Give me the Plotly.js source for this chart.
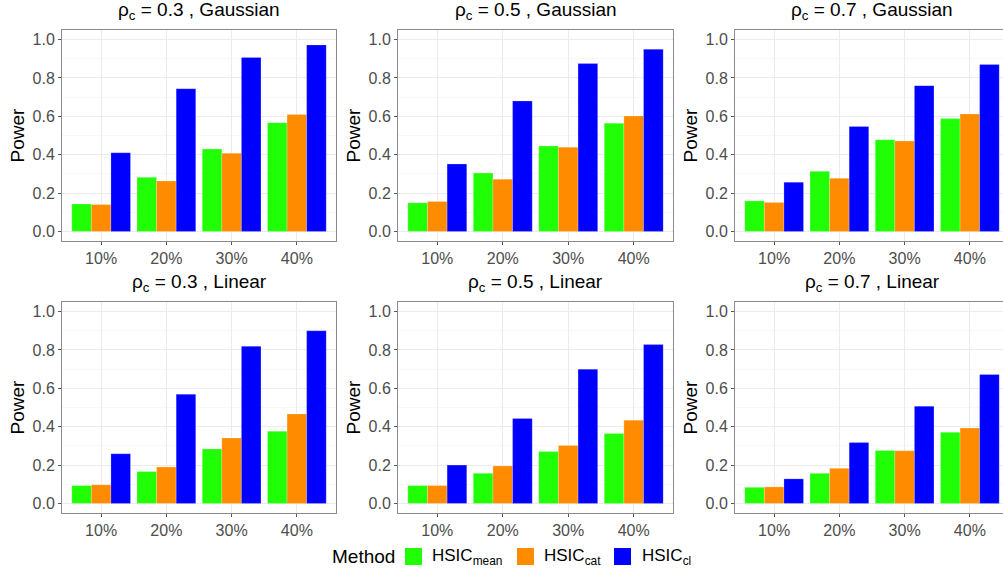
<!DOCTYPE html>
<html>
<head>
<meta charset="utf-8">
<script src="https://cdn.plot.ly/plotly-3.0.1.min.js"></script>
<style>
html, body { margin:0; padding:0; overflow:hidden; background:#fff; }
#chart { width:1010px; height:571px; }
</style>
</head>
<body>
<div id="chart"></div>
<script>
// ---------------- data ----------------
var categories = ['10%', '20%', '30%', '40%'];
var methodNames = ['HSIC<sub>mean</sub>', 'HSIC<sub>cat</sub>', 'HSIC<sub>cl</sub>'];
var methodColors = ['#20FF06', '#FF8C00', '#0000FF'];
var rhoValues = ['0.3', '0.5', '0.7'];
var kernelNames = ['Gaussian', 'Linear'];

// Gaussian kernel
var gauss03_mean = [0.143, 0.282, 0.429, 0.567];
var gauss03_cat  = [0.140, 0.263, 0.408, 0.609];
var gauss03_cl   = [0.410, 0.744, 0.907, 0.972];

var gauss05_mean = [0.149, 0.304, 0.445, 0.564];
var gauss05_cat  = [0.156, 0.272, 0.439, 0.602];
var gauss05_cl   = [0.351, 0.680, 0.875, 0.950];

var gauss07_mean = [0.159, 0.313, 0.478, 0.588];
var gauss07_cat  = [0.151, 0.277, 0.471, 0.612];
var gauss07_cl   = [0.256, 0.547, 0.760, 0.870];

// Linear kernel
var linear03_mean = [0.093, 0.166, 0.284, 0.376];
var linear03_cat  = [0.097, 0.190, 0.341, 0.466];
var linear03_cl   = [0.259, 0.569, 0.819, 0.900];

var linear05_mean = [0.093, 0.157, 0.271, 0.364];
var linear05_cat  = [0.093, 0.195, 0.302, 0.434];
var linear05_cl   = [0.200, 0.443, 0.700, 0.828];

var linear07_mean = [0.084, 0.157, 0.276, 0.371];
var linear07_cat  = [0.086, 0.183, 0.274, 0.393];
var linear07_cl   = [0.128, 0.317, 0.507, 0.672];

var panelSeries = [
  [gauss03_mean, gauss03_cat, gauss03_cl],
  [gauss05_mean, gauss05_cat, gauss05_cl],
  [gauss07_mean, gauss07_cat, gauss07_cl],
  [linear03_mean, linear03_cat, linear03_cl],
  [linear05_mean, linear05_cat, linear05_cl],
  [linear07_mean, linear07_cat, linear07_cl]
];

// ---------------- layout geometry (pixels) ----------------
var W = 1010, H = 571;
var colX = [[62, 336], [398, 673], [735, 1009]];
var rowY = [[30, 241], [302, 513]];
function px(x) { return x / W; }
function py(y) { return 1 - y / H; }

var FONT = '"Liberation Sans", Arial, Helvetica, sans-serif';
var traces = [];
var layout = {
  width: W, height: H, autosize: false,
  margin: {l: 0, r: 0, t: 0, b: 0, pad: 0},
  paper_bgcolor: '#ffffff', plot_bgcolor: '#ffffff',
  barmode: 'group', bargap: 0.1, bargroupgap: 0,
  showlegend: false,
  font: {family: FONT, color: '#4D4D4D'},
  annotations: [], shapes: []
};

for (var p = 0; p < 6; p++) {
  var r = Math.floor(p / 3), c = p % 3;
  var idx = p + 1;
  var xa = 'x' + (idx === 1 ? '' : idx), ya = 'y' + (idx === 1 ? '' : idx);
  for (var m = 0; m < 3; m++) {
    traces.push({
      type: 'bar', x: categories, y: panelSeries[p][m],
      xaxis: xa, yaxis: ya, name: methodNames[m],
      marker: {color: methodColors[m], line: {width: 0.6, color: 'rgba(255,255,255,0.35)'}},
      hoverinfo: 'x+y+name'
    });
  }
  var xKey = 'xaxis' + (idx === 1 ? '' : idx), yKey = 'yaxis' + (idx === 1 ? '' : idx);
  layout[xKey] = {
    domain: [px(colX[c][0]), px(colX[c][1])],
    anchor: ya, type: 'category', range: [-0.6, 3.6],
    showline: true, mirror: true, linecolor: '#8a8a8a', linewidth: 1,
    showgrid: true, gridcolor: '#EBEBEB', gridwidth: 1,
    ticks: 'outside', ticklen: 3, tickwidth: 1, tickcolor: '#555555',
    tickfont: {family: FONT, size: 16, color: '#4D4D4D'},
    zeroline: false, fixedrange: true
  };
  layout[yKey] = {
    domain: [py(rowY[r][1]), py(rowY[r][0])],
    anchor: xa, range: [-0.05, 1.05],
    tickmode: 'linear', tick0: 0, dtick: 0.2, tickformat: '.1f',
    showline: true, mirror: true, linecolor: '#8a8a8a', linewidth: 1,
    showgrid: true, gridcolor: '#EBEBEB', gridwidth: 1,
    minor: {tickmode: 'linear', tick0: 0.1, dtick: 0.2, showgrid: true, gridcolor: '#F4F4F4', gridwidth: 0.6, ticks: ''},
    ticks: 'outside', ticklen: 3, tickwidth: 1, tickcolor: '#555555',
    tickfont: {family: FONT, size: 16, color: '#4D4D4D'},
    zeroline: false, fixedrange: true,
    title: {text: 'Power', font: {family: FONT, size: 19, color: '#000000'}, standoff: 2}
  };
  layout.annotations.push({
    xref: 'paper', yref: 'paper',
    x: px((colX[c][0] + colX[c][1]) / 2), y: py(rowY[r][0] - 19),
    xanchor: 'center', yanchor: 'middle', showarrow: false,
    text: '\u03C1<sub>c</sub> = ' + rhoValues[c] + ' , ' + kernelNames[r],
    font: {family: FONT, size: 19, color: '#000000'}
  });
}

// ---------------- legend (manual) ----------------
var legendY = 556.5;
layout.annotations.push({
  xref: 'paper', yref: 'paper', x: px(330), y: py(legendY),
  xanchor: 'left', yanchor: 'middle', showarrow: false,
  text: 'Method', font: {family: FONT, size: 19, color: '#000000'}
});
var keyX = [405, 517, 614];
var labelX = [430, 542, 640];
for (var k = 0; k < 3; k++) {
  layout.shapes.push({
    type: 'rect', xref: 'paper', yref: 'paper',
    x0: px(keyX[k]), x1: px(keyX[k] + 17),
    y0: py(legendY + 8.5), y1: py(legendY - 8.5),
    fillcolor: methodColors[k], line: {width: 0}
  });
  layout.annotations.push({
    xref: 'paper', yref: 'paper', x: px(labelX[k]), y: py(legendY),
    xanchor: 'left', yanchor: 'middle', showarrow: false,
    text: methodNames[k], font: {family: FONT, size: 17, color: '#000000'}
  });
}

Plotly.newPlot('chart', traces, layout, {displayModeBar: false, staticPlot: true});
</script>
</body>
</html>
